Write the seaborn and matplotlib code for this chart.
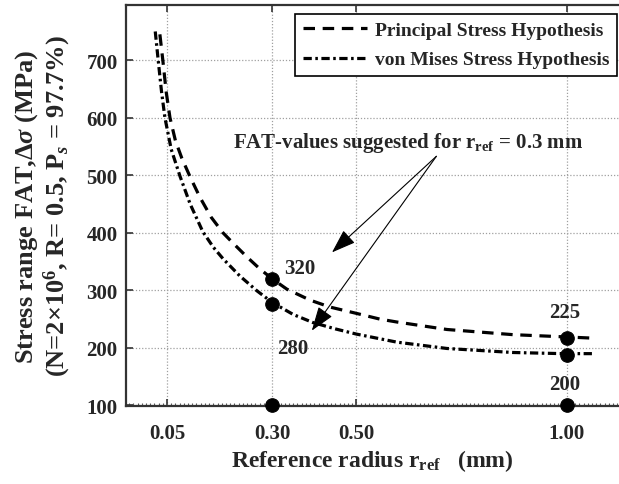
import matplotlib
matplotlib.use("Agg")
import matplotlib.pyplot as plt
import seaborn as sns
import pandas as pd

# ---- data ----
principal_r = [0.033, 0.040, 0.048, 0.057, 0.070, 0.085, 0.105, 0.128, 0.155, 0.183,
               0.207, 0.240, 0.271, 0.300, 0.335, 0.390, 0.437, 0.500, 0.556, 0.596,
               0.715, 0.872, 1.000, 1.060]
principal_fat = [745, 700, 645, 600, 560, 530, 497, 462, 427, 400,
                 382, 358, 337, 320, 302, 283, 271, 260, 250, 245,
                 232, 223, 219, 217]

mises_r = [0.022, 0.029, 0.037, 0.045, 0.060, 0.081, 0.105, 0.135, 0.160, 0.183,
           0.223, 0.264, 0.300, 0.350, 0.397, 0.450, 0.500, 0.596, 0.715, 0.872,
           0.990, 1.060]
mises_fat = [750, 700, 645, 600, 545, 498, 450, 402, 375, 355,
             325, 299, 279, 258, 244, 233, 224, 210, 199, 192,
             190, 190]

point_r = [0.30, 0.30, 0.30, 1.00, 1.00, 1.00]
point_fat = [320, 277, 100, 218, 188, 100]

value_labels = ["320", "280", "225", "200"]
x_ticks = [0.05, 0.30, 0.50, 1.00]
x_tick_labels = ["0.05", "0.30", "0.50", "1.00"]
y_ticks = [100, 200, 300, 400, 500, 600, 700]
series_names = ["Principal Stress Hypothesis", "von Mises Stress Hypothesis"]

sns.set_style("ticks")
plt.rcParams["font.family"] = ["Liberation Serif", "DejaVu Serif"]
plt.rcParams["font.weight"] = "bold"
plt.rcParams["mathtext.fontset"] = "custom"
plt.rcParams["mathtext.rm"] = "Liberation Serif:bold"
plt.rcParams["mathtext.it"] = "Liberation Serif:italic:bold"
plt.rcParams["mathtext.bf"] = "Liberation Serif:bold"

fig = plt.figure(figsize=(6.19, 4.85), dpi=100)
ax = fig.add_axes([126 / 619, 1 - 407 / 485, 493 / 619, 401 / 485])

df_p = pd.DataFrame({"r": principal_r, "fat": principal_fat})
df_m = pd.DataFrame({"r": mises_r, "fat": mises_fat})
df_pts = pd.DataFrame({"r": point_r, "fat": point_fat})

sns.lineplot(data=df_p, x="r", y="fat", ax=ax, color="black", lw=2.3,
             linestyle=(0, (3.6, 2.4)), sort=False, label=series_names[0], zorder=3)
sns.lineplot(data=df_m, x="r", y="fat", ax=ax, color="black", lw=2.3,
             linestyle=(0, (2.6, 1.1, 0.8, 1.1)), sort=False, label=series_names[1], zorder=3)
sns.scatterplot(data=df_pts, x="r", y="fat", ax=ax, color="black", s=95,
                edgecolor="black", zorder=5, clip_on=False, legend=False)

ax.set_xlim(-0.0475, 1.124)
ax.set_ylim(99, 796)
ax.set_xticks(x_ticks)
ax.set_xticklabels(x_tick_labels)
ax.set_yticks(y_ticks)
ax.set_xticks([i / 100 for i in range(-4, 113)], minor=True)

ax.grid(True, which="major", linestyle=(0, (1, 1.5)), color="#a0a0a0", lw=0.9)
ax.tick_params(axis="both", which="major", direction="in", length=5, width=1.2,
               labelsize=15, top=True, right=False, color="#333333")
ax.tick_params(axis="x", which="major", pad=12)
ax.tick_params(axis="y", which="major", pad=6)
ax.tick_params(axis="x", which="minor", direction="in", length=2.5, width=0.8,
               top=False, bottom=True, color="#555555")
for lab in ax.get_xticklabels() + ax.get_yticklabels():
    lab.set_fontweight("bold")

for side in ["left", "bottom", "top"]:
    ax.spines[side].set_color("#333333")
    ax.spines[side].set_linewidth(1.6)
ax.spines["right"].set_visible(False)

ax.set_xlabel(r"Reference radius r$_{\mathrm{ref}}$   (mm)", fontsize=17, fontweight="bold")
ax.xaxis.set_label_coords(0.5, -0.103)
ax.xaxis.label.set_verticalalignment("top")
ax.set_ylabel("Stress range FAT,$\\Delta\\sigma$ (MPa)\n(N=2\u00d710$^{6}$, R= 0.5, P$_{s}$ = 97.7%)",
              fontsize=19, fontweight="bold", linespacing=1.05)
ax.yaxis.set_label_coords(-0.108, 0.5)

# value labels
ax.text(0.366, 338, value_labels[0], fontsize=15, fontweight="bold", ha="center", va="center")
ax.text(0.348, 200, value_labels[1], fontsize=15, fontweight="bold", ha="center", va="center")
ax.text(0.995, 262, value_labels[2], fontsize=15, fontweight="bold", ha="center", va="center")
ax.text(0.995, 138, value_labels[3], fontsize=15, fontweight="bold", ha="center", va="center")

# annotation
ax.text(0.207, 550, r"FAT-values suggested for r$_{\mathrm{ref}}$ = 0.3 mm", fontsize=15,
        fontweight="bold", ha="left", va="baseline")
for tip in [(0.442, 366), (0.394, 230)]:
    ax.annotate("", xy=tip, xytext=(0.69, 533),
                arrowprops=dict(arrowstyle="-|>,head_length=1.0,head_width=0.35",
                                color="black", lw=0.8, shrinkA=0, shrinkB=0,
                                mutation_scale=15))

leg = ax.legend(loc="upper right", bbox_to_anchor=(0.996, 0.978),
                prop={"family": "Liberation Serif", "weight": "bold", "size": 14},
                frameon=True, fancybox=False, framealpha=1, edgecolor="black",
                handlelength=3.3, handletextpad=0.4, borderpad=0.4,
                labelspacing=0.6, borderaxespad=0)
leg.get_frame().set_linewidth(1.2)

fig.savefig("out.png", dpi=100)
